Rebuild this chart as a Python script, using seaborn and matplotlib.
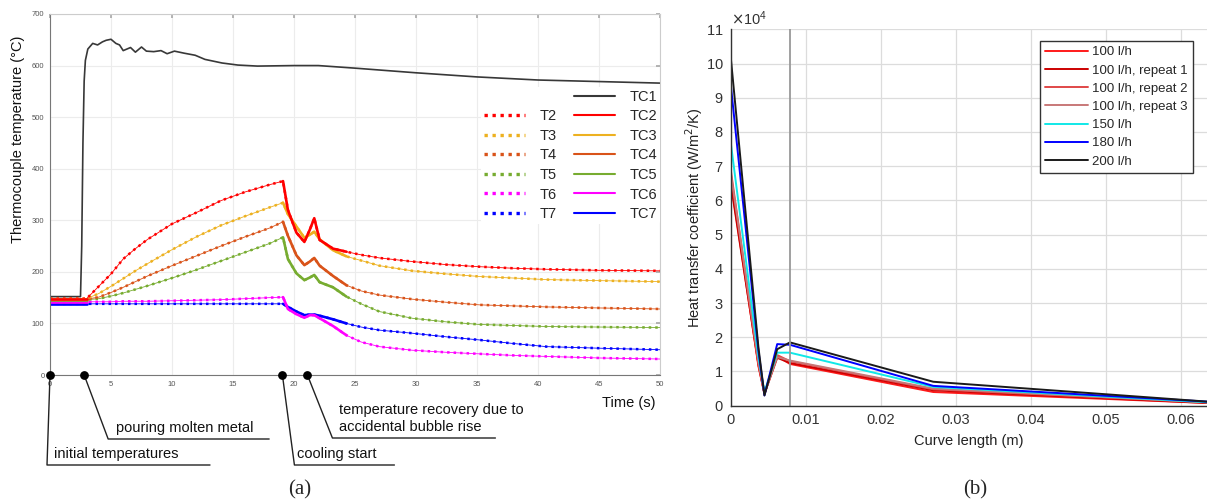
import matplotlib.pyplot as plt
import matplotlib.transforms as mtransforms
from matplotlib.lines import Line2D
import seaborn as sns

# -----------------------------
# (a) thermocouple temperatures
# -----------------------------
t_heat = [0, 3, 4, 5, 6, 7, 8, 10, 12, 14, 16, 18, 19.1]
t_cool = [19.1, 19.5, 20.2, 20.85, 21.3, 21.66, 22.1, 23.2, 24.3, 25.5,
          27, 29.7, 32.5, 35.2, 38, 40.7, 45, 50]

T2_heat = [148, 148, 172, 196, 225, 245, 263, 293, 315, 338, 355, 369, 376]
T3_heat = [148, 148, 158, 172, 187, 202, 216, 243, 268, 290, 308, 325, 334]
T4_heat = [147, 147, 151, 160, 170, 181, 192, 212, 231, 250, 268, 285, 297]
T5_heat = [146, 146, 148, 153, 159, 166, 173, 188, 204, 221, 238, 255, 267]
T6_heat = [142, 142, 142, 142, 143, 143, 143, 144, 145, 146, 148, 150, 151]
T7_heat = [138, 138, 138, 138, 138, 138, 138, 138, 138, 138, 138, 138, 138]

T2_cool = [376, 320, 276, 258, 282, 304, 262, 245, 239, 233, 227, 220, 214, 210, 207, 205, 203, 202]
T3_cool = [334, 312, 288, 266, 272, 278, 263, 242, 230, 222, 212, 202, 196, 191, 188, 185, 183, 181]
T4_cool = [297, 270, 232, 213, 220, 227, 212, 192, 174, 163, 155, 147, 141, 136, 134, 132, 130, 128]
T5_cool = [267, 225, 197, 184, 189, 194, 180, 170, 152, 138, 123, 110, 103, 98, 96, 94, 93, 92]
T6_cool = [151, 128, 118, 111, 116, 116, 110, 95, 77, 64, 55, 48, 44, 41, 38, 36, 33, 31]
T7_cool = [138, 132, 123, 116, 117, 117, 115, 108, 100, 93, 87, 81, 74, 68, 61, 55, 52, 49]

tc1_time = [0, 2.5, 2.6, 2.7, 2.8, 2.9, 3.1, 3.5, 3.9, 4.3, 4.6, 5.0, 5.4, 5.7, 6.0,
            6.6, 7.0, 7.5, 7.9, 8.5, 9.1, 9.6, 10.2, 11.0, 11.9, 12.7, 14.1, 15.4,
            17, 20, 22, 25, 30, 35, 40, 45, 50]
tc1_temp = [152, 152, 250, 450, 570, 610, 632, 643, 640, 646, 649, 651, 643, 640, 629,
            635, 626, 636, 628, 627, 629, 623, 628, 624, 620, 612, 605, 601,
            599, 600, 600, 595, 586, 578, 572, 569, 566]

sensor_names = ["2", "3", "4", "5", "6", "7"]
sensor_colors = ["#ff0000", "#edb120", "#d95319", "#77ac30", "#ff00ff", "#0000ff"]
tc1_color = "#383838"

event_times = [0, 2.8, 19.05, 21.1]
event_labels = ["initial temperatures", "pouring molten metal", "cooling start",
                "temperature recovery due to\naccidental bubble rise"]

# -----------------------------
# (b) heat transfer coefficient
# -----------------------------
curve_length = [0, 0.0037, 0.0045, 0.0062, 0.0079, 0.027, 0.0635]
h_100 = [66000, 11500, 3500, 14500, 12200, 4000, 800]
h_100_r1 = [65000, 12000, 3500, 14000, 12500, 4500, 800]
h_100_r2 = [69000, 12000, 3500, 14800, 13000, 4800, 1000]
h_100_r3 = [68000, 13000, 3500, 14200, 13200, 5000, 1000]
h_150 = [77000, 14000, 4000, 15500, 15500, 5500, 1000]
h_180 = [94000, 16000, 3000, 18000, 17800, 5800, 1200]
h_200 = [102000, 17000, 3000, 16500, 18500, 7000, 1200]
flow_labels = ["100 l/h", "100 l/h, repeat 1", "100 l/h, repeat 2", "100 l/h, repeat 3",
               "150 l/h", "180 l/h", "200 l/h"]
flow_colors = ["#ff1a1a", "#cc0000", "#e04848", "#c87878", "#10e8e8", "#0000ff", "#1a1a1a"]
marker_x = 0.0079
x_ticks = [0, 0.01, 0.02, 0.03, 0.04, 0.05, 0.06]
x_ticklabels = ["0", "0.01", "0.02", "0.03", "0.04", "0.05", "0.06"]

sns.set_theme(style="whitegrid")
plt.rcParams["font.family"] = ["Liberation Sans", "DejaVu Sans"]

fig = plt.figure(figsize=(12.07, 5.01), dpi=100)
ax1 = fig.add_axes([50 / 1207, 126 / 501, 610 / 1207, 361 / 501])
ax2 = fig.add_axes([730.7 / 1207, 95.3 / 501, 476.3 / 1207, 376.4 / 501])

# ---- panel (a)
heat = [T2_heat, T3_heat, T4_heat, T5_heat, T6_heat, T7_heat]
cool = [T2_cool, T3_cool, T4_cool, T5_cool, T6_cool, T7_cool]

sns.lineplot(x=tc1_time, y=tc1_temp, color=tc1_color, linewidth=1.2, ax=ax1)
for i in reversed(range(6)):
    tt = t_heat + t_cool[1:]
    vv = heat[i] + cool[i][1:]
    sns.lineplot(x=tt, y=vv, color=sensor_colors[i], linewidth=0.6, ax=ax1)
    sns.lineplot(x=tt, y=vv, color=sensor_colors[i], linewidth=1.8,
                 linestyle=(0, (1, 1.6)), ax=ax1)
for i in reversed(range(6)):
    # measured parts: initial plateau and the cooling transient
    sns.lineplot(x=t_heat[:2], y=heat[i][:2], color=sensor_colors[i], linewidth=1.9, ax=ax1)
    sns.lineplot(x=t_cool[:9], y=cool[i][:9], color=sensor_colors[i], linewidth=1.9, ax=ax1)

ax1.set_xlim(0, 50)
ax1.set_ylim(0, 700)
ax1.set_xticks(range(0, 51, 5))
ax1.set_yticks(range(0, 701, 100))
ax1.tick_params(labelsize=5.5, labelcolor="#555555", direction="in", length=3,
                color="#aaaaaa", top=True, right=True, pad=4)
ax1.grid(color="#ececec", linewidth=0.8)
for side in ["top", "right"]:
    ax1.spines[side].set_color("#cccccc")
for side in ["left", "bottom"]:
    ax1.spines[side].set_color("#777777")
for sp in ax1.spines.values():
    sp.set_linewidth(0.8)
ax1.set_xlabel("")
ax1.set_ylabel("Thermocouple temperature (°C)", fontsize=10.5, color="#111111")
ax1.yaxis.set_label_coords(-0.041, 0.654)
ax1.text(0.993, -0.078, "Time (s)", transform=ax1.transAxes, ha="right", va="center",
         fontsize=10.5, color="#111111")

blank = Line2D([], [], color="none")
t_handles = [Line2D([], [], color=c, linestyle=(0, (1, 1.4)), linewidth=2.4) for c in sensor_colors]
tc_handles = [Line2D([], [], color=tc1_color, linewidth=1.5)] + \
             [Line2D([], [], color=c, linewidth=1.5) for c in sensor_colors]
ax1.legend(handles=[blank] + t_handles + tc_handles,
           labels=[""] + ["T" + s for s in sensor_names] + ["TC1"] + ["TC" + s for s in sensor_names],
           ncol=2, loc="upper right", bbox_to_anchor=(1.0, 0.798), frameon=True,
           facecolor="white", edgecolor="none", framealpha=1, fontsize=10.5,
           handlelength=2.8, handletextpad=1.0, columnspacing=1.2, labelspacing=0.38,
           borderaxespad=0, borderpad=0.2)

# event markers with leader lines
ax1.scatter(event_times, [0] * len(event_times), s=28, color="black", zorder=6, clip_on=False)
corner_dx = [-3, 24, 12, 25]
drop = [90, 64, 90, 63]
under_len = [163, 161, 100, 163]
text_dx = [7, 8, 3, 7]
ident = mtransforms.IdentityTransform()
for t, lab, cdx, dy, ul, tdx in zip(event_times, event_labels, corner_dx, drop, under_len, text_dx):
    x0, y0 = ax1.transData.transform((t, 0))
    ax1.plot([x0, x0 + cdx, x0 + cdx + ul], [y0, y0 - dy, y0 - dy], color="#222222",
             linewidth=1.0, transform=ident, clip_on=False)
    ax1.text(x0 + cdx + tdx, y0 - dy + 4, lab, transform=ident, ha="left", va="bottom",
             fontsize=10.5, color="#111111", linespacing=1.25)

# ---- panel (b)
series = [h_100, h_100_r1, h_100_r2, h_100_r3, h_150, h_180, h_200]
for vals, lab, c in zip(series, flow_labels, flow_colors):
    sns.lineplot(x=curve_length, y=vals, color=c, linewidth=1.4, label=lab, ax=ax2)
ax2.axvline(marker_x, color="#999999", linewidth=1.3)

ax2.set_xlim(0, 0.0635)
ax2.set_ylim(0, 110000)
ax2.set_yticks(range(0, 110001, 10000))
ax2.set_xticks(x_ticks)
ax2.set_xticklabels(x_ticklabels)
ax2.ticklabel_format(axis="y", style="sci", scilimits=(4, 4), useMathText=True)
ax2.yaxis.get_offset_text().set_fontsize(10.5)
ax2.yaxis.get_offset_text().set_color("#333333")
ax2.tick_params(labelsize=10.5, labelcolor="#333333", direction="in", length=4,
                color="#333333", pad=5)
ax2.grid(color="#dcdcdc", linewidth=0.9)
ax2.spines["top"].set_visible(False)
ax2.spines["right"].set_visible(False)
for side in ["left", "bottom"]:
    ax2.spines[side].set_color("#333333")
    ax2.spines[side].set_linewidth(1.0)
ax2.set_xlabel("Curve length (m)", fontsize=10.5, color="#222222", labelpad=5)
ax2.set_ylabel("Heat transfer coefficient (W/m$^2$/K)", fontsize=10.5, color="#222222")
ax2.yaxis.set_label_coords(-0.055, 0.5)
leg = ax2.legend(loc="upper right", bbox_to_anchor=(0.971, 0.969), fontsize=9.5,
                 handlelength=3.25, handletextpad=0.3, labelspacing=0.45, borderpad=0.4,
                 borderaxespad=0, fancybox=False, framealpha=1, edgecolor="#333333")
leg.get_frame().set_linewidth(1.0)

fig.text(300 / 1207, 1 - 490 / 501, "(a)", family="Liberation Serif", fontsize=15,
         ha="center", va="center")
fig.text(975 / 1207, 1 - 490 / 501, "(b)", family="Liberation Serif", fontsize=15,
         ha="center", va="center")

fig.savefig("out.png", dpi=100)
